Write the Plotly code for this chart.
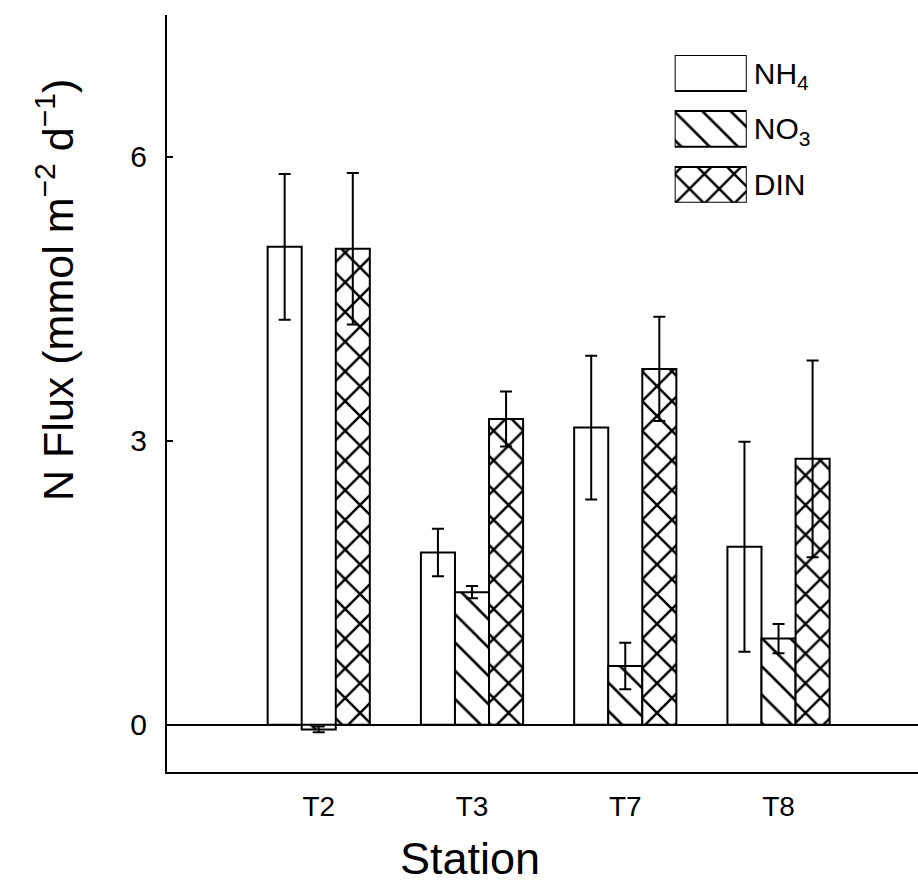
import plotly.graph_objects as go

stations = ["T2", "T3", "T7", "T8"]
nh4 = [5.05, 1.82, 3.14, 1.88]
nh4_err = [0.77, 0.25, 0.76, 1.11]
no3 = [-0.05, 1.40, 0.62, 0.91]
no3_err = [0.03, 0.065, 0.245, 0.155]
din = [5.03, 3.23, 3.76, 2.81]
din_err = [0.80, 0.29, 0.55, 1.04]

series_names = ["NH<sub>4</sub>", "NO<sub>3</sub>", "DIN"]
series_values = [nh4, no3, din]
series_errors = [nh4_err, no3_err, din_err]
hatch_shapes = ["", "\\", "x"]
hatch_sizes = [20, 20, 21]
hatch_solidity = [0.13, 0.13, 0.22]

font_family = "Liberation Sans, Arial, sans-serif"

fig = go.Figure()
for name, vals, errs, shape, size, sol in zip(series_names, series_values, series_errors,
                                            hatch_shapes, hatch_sizes, hatch_solidity):
    fig.add_trace(go.Bar(
        x=stations, y=vals, name=name, showlegend=False,
        marker=dict(color="white", line=dict(color="black", width=2),
                    pattern=dict(shape=shape, fgcolor="black", bgcolor="white",
                                 fgopacity=1, size=size, solidity=sol)),
        error_y=dict(type="data", array=errs, visible=True, color="black",
                     thickness=2, width=6),
    ))

# legend drawn as a small key panel (boxes with the same hatches)
fig.add_trace(go.Bar(
    y=series_names, x=[1] * len(series_names), orientation="h", width=0.64,
    xaxis="x2", yaxis="y2", showlegend=False, hoverinfo="skip",
    marker=dict(color="white", line=dict(color="black", width=2),
                pattern=dict(shape=hatch_shapes, fgcolor="black", bgcolor="white",
                             fgopacity=1, size=hatch_sizes, solidity=hatch_solidity)),
))

fig.update_layout(
    width=918, height=886,
    margin=dict(l=167, r=0, t=15, b=114),
    paper_bgcolor="white", plot_bgcolor="white",
    barmode="group", bargap=1/3, bargroupgap=0,
    font=dict(family=font_family, color="black"),
    showlegend=False,
    xaxis=dict(range=[-0.99, 3.91], showline=True, linecolor="black", linewidth=2,
               ticks="", tickfont=dict(size=28), showgrid=False,
               ticklabelstandoff=8),
    yaxis=dict(range=[-0.5, 7.5], tickvals=[0, 3, 6], showline=True,
               linecolor="black", linewidth=2, ticks="inside", ticklen=6,
               tickwidth=1.5, tickcolor="black", tickfont=dict(size=30),
               showgrid=False, zeroline=True, zerolinecolor="black",
               zerolinewidth=2, ticklabelstandoff=12),
    xaxis2=dict(domain=[0.676, 0.772], range=[0, 1], anchor="y2", visible=False),
    yaxis2=dict(domain=[0.752, 0.947], range=[2.32, -0.32], anchor="x2",
                type="category", side="right", showline=False, ticks="",
                showgrid=False, zeroline=False, tickfont=dict(size=30),
                ticklabelstandoff=6),
    annotations=[
        dict(text="N Flux (mmol m<sup>\u22122</sup> d<sup>\u22121</sup>)",
             xref="paper", yref="paper", x=-0.149, y=0.637, textangle=-90,
             showarrow=False, font=dict(size=43), xanchor="center", yanchor="middle"),
        dict(text="Station", xref="paper", yref="paper", x=0.403, y=-0.114,
             showarrow=False, font=dict(size=45), xanchor="center", yanchor="middle"),
    ],
)

fig.write_html("out.html", config={"displayModeBar": False},
               post_script="document.body.style.margin='0px';")
